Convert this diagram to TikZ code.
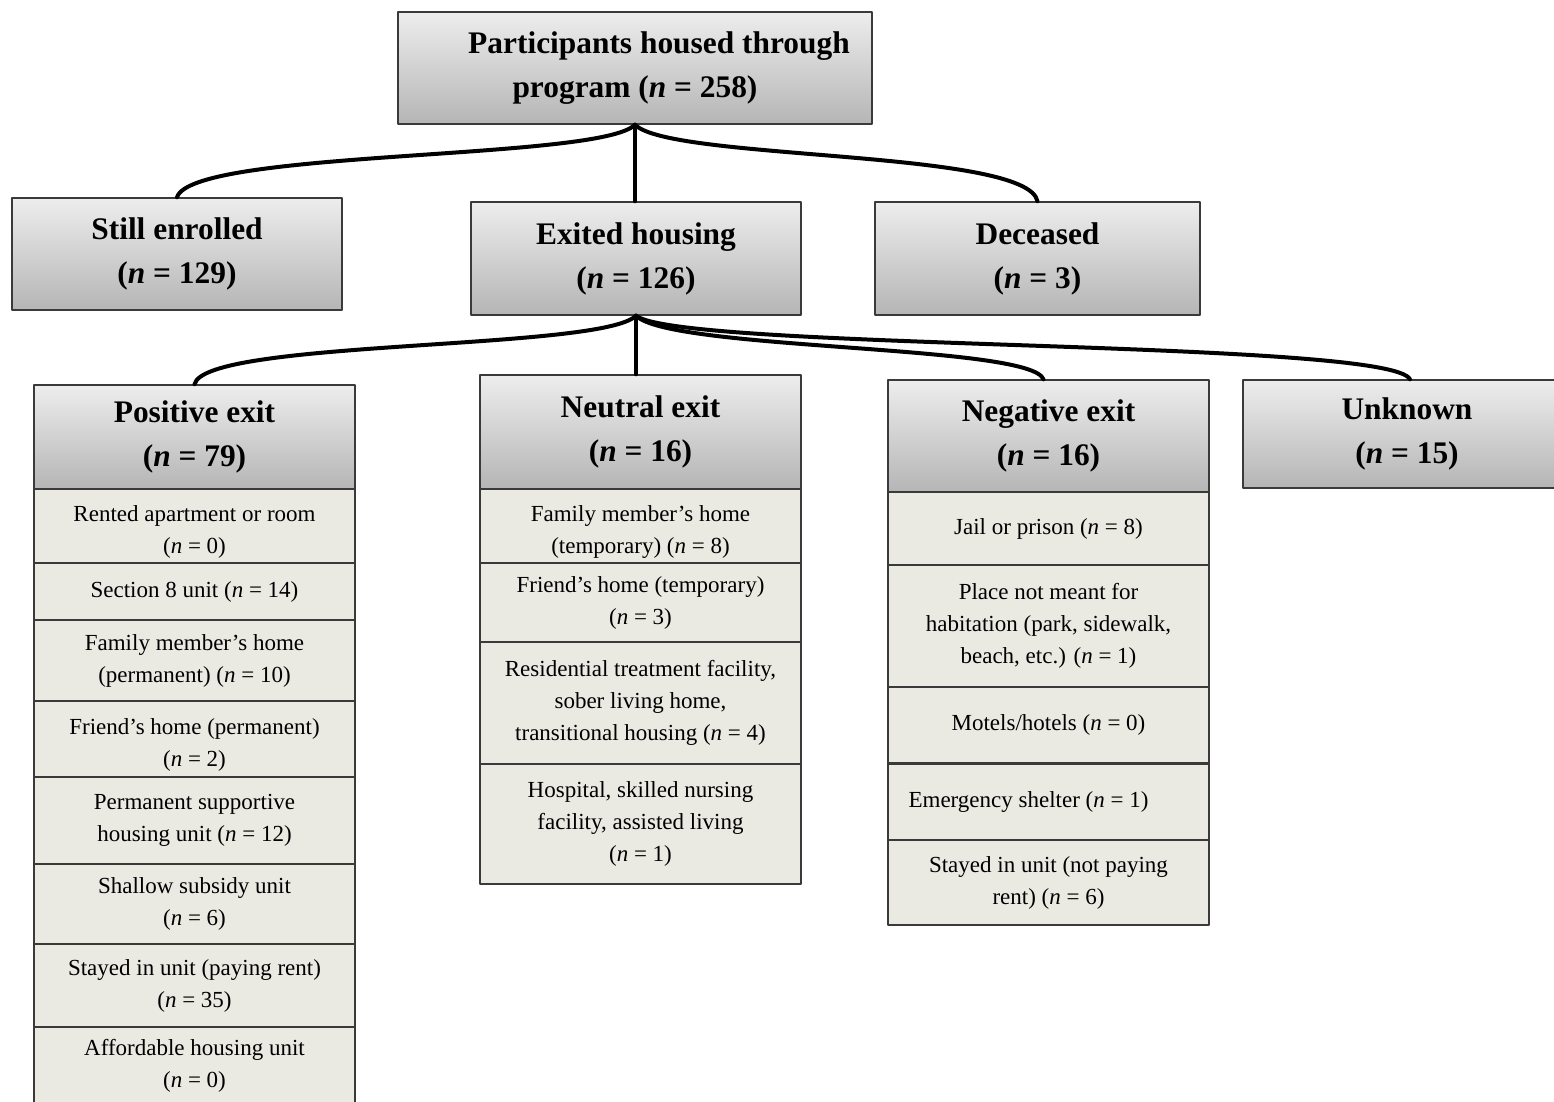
\documentclass[tikz,border=0pt]{standalone}
\usepackage{fontspec}
\setmainfont{Liberation Serif}
\usetikzlibrary{positioning}

\definecolor{rowfill}{HTML}{EAE9E2}
\definecolor{boxedge}{HTML}{3A3A3A}

\newcommand{\headfont}{\fontsize{15.7}{22}\selectfont\bfseries}
\newcommand{\rowfont}{\fontsize{11.5}{16}\selectfont}
\newcommand{\dropline}{\rule{0pt}{14pt}}

\begin{document}
\begin{tikzpicture}[
  x=0.5pt,
  y=-0.5pt,
  line join=round,
  head/.style={draw=boxedge,line width=0.7pt,top color=gray!14,bottom color=gray!58,
    font=\headfont,align=center,inner sep=0pt},
  row/.style={draw=boxedge,line width=0.7pt,fill=rowfill,font=\rowfont,
    align=center,inner sep=0pt,minimum width=160.5pt},
  link/.style={draw=black,line width=2pt,line cap=round}
]
  % Keep the frame of the original figure.
  \useasboundingbox (0,0) rectangle (1554,1102);

  % Top level and first split.
  \node[head,minimum width=237pt,minimum height=56pt] (top) at (635,68)
    {\hspace*{24pt}Participants housed through\\program (\textit{n} = 258)};
  \node[head,minimum width=165pt,minimum height=56pt] (still) at (177,254)
    {Still enrolled\\(\textit{n} = 129)};
  \node[head,minimum width=165pt,minimum height=56.5pt] (exited) at (636,258.5)
    {Exited housing\\(\textit{n} = 126)};
  \node[head,minimum width=162.5pt,minimum height=56.5pt] (dead) at (1037.5,258.5)
    {Deceased\\(\textit{n} = 3)};

  % Exit categories.
  \node[head,minimum width=160.5pt,minimum height=52pt] (posit) at (194.5,437)
    {Positive exit\\(\textit{n} = 79)};
  \node[head,minimum width=160.5pt,minimum height=57pt] (neutr) at (640.5,432)
    {Neutral exit\\(\textit{n} = 16)};
  \node[head,minimum width=160.5pt,minimum height=56pt] (negat) at (1048.5,436)
    {Negative exit\\(\textit{n} = 16)};
  \node[head,minimum width=157pt,minimum height=54pt] (unkn) at (1400,434)
    {\hspace*{7pt}Unknown\\\hspace*{7pt}(\textit{n} = 15)};

  % Destinations under each exit type: name/top/bottom/text.
  \foreach \nm/\yt/\yb/\txt in {
      p1/489/563/{\dropline Rented apartment or room\\(\textit{n} = 0)},
      p2/563/620/{Section 8 unit (\textit{n} = 14)},
      p3/620/701/{Family member's home\\(permanent) (\textit{n} = 10)},
      p4/701/777/{\dropline Friend's home (permanent)\\(\textit{n} = 2)},
      p5/777/864/{Permanent supportive\\housing unit (\textit{n} = 12)},
      p6/864/944/{Shallow subsidy unit\\(\textit{n} = 6)},
      p7/944/1027/{Stayed in unit (paying rent)\\(\textit{n} = 35)},
      p8/1027/1104/{Affordable housing unit\\(\textit{n} = 0)}} {
    \node[row,minimum height={(\yb-\yt)*0.5pt}] (\nm) at (194.5,{(\yt+\yb)/2}) {\txt};
  }
  \foreach \nm/\yt/\yb/\txt in {
      u1/489/563/{\dropline Family member's home\\(temporary) (\textit{n} = 8)},
      u2/563/642/{Friend's home (temporary)\\(\textit{n} = 3)},
      u3/642/764/{Residential treatment facility,\\sober living home,\\transitional housing (\textit{n} = 4)},
      u4/764/884/{Hospital, skilled nursing\\facility, assisted living\\(\textit{n} = 1)}} {
    \node[row,minimum height={(\yb-\yt)*0.5pt}] (\nm) at (640.5,{(\yt+\yb)/2}) {\txt};
  }
  \foreach \nm/\yt/\yb/\txt in {
      g1/492/565/{Jail or prison (\textit{n} = 8)},
      g2/565/687/{Place not meant for\\habitation (park, sidewalk,\\beach, etc.) (\textit{n} = 1)},
      g3/687/763/{Motels/hotels (\textit{n} = 0)},
      g4/763/840/{\hspace*{-20pt}Emergency shelter (\textit{n} = 1)},
      g5/840/925/{Stayed in unit (not paying\\rent) (\textit{n} = 6)}} {
    \node[row,minimum height={(\yb-\yt)*0.5pt}] (\nm) at (1048.5,{(\yt+\yb)/2}) {\txt};
  }
  \draw[boxedge,line width=1.3pt] (g3.south west) -- (g3.south east);

  % Curved branches from the top box.
  \draw[link] (top.south) -- (top.south |- exited.north);
  \draw[link] (top.south) .. controls +(-35,36) and +(15,-48) .. (still.north);
  \draw[link] (top.south) .. controls +(35,36) and +(-10,-52) .. (dead.north);

  % Curved branches from exited housing.
  \draw[link] (exited.south) -- (exited.south |- neutr.north);
  \draw[link] (exited.south) .. controls +(-35,35) and +(10,-45) .. (posit.north);
  \draw[link] (exited.south) .. controls +(35,35) and +(-13,-35) .. ([xshift=-2.5pt]negat.north);
  \draw[link] (exited.south) .. controls +(45,35) and +(-20,-40) .. ([xshift=5pt]unkn.north);
\end{tikzpicture}
\end{document}
